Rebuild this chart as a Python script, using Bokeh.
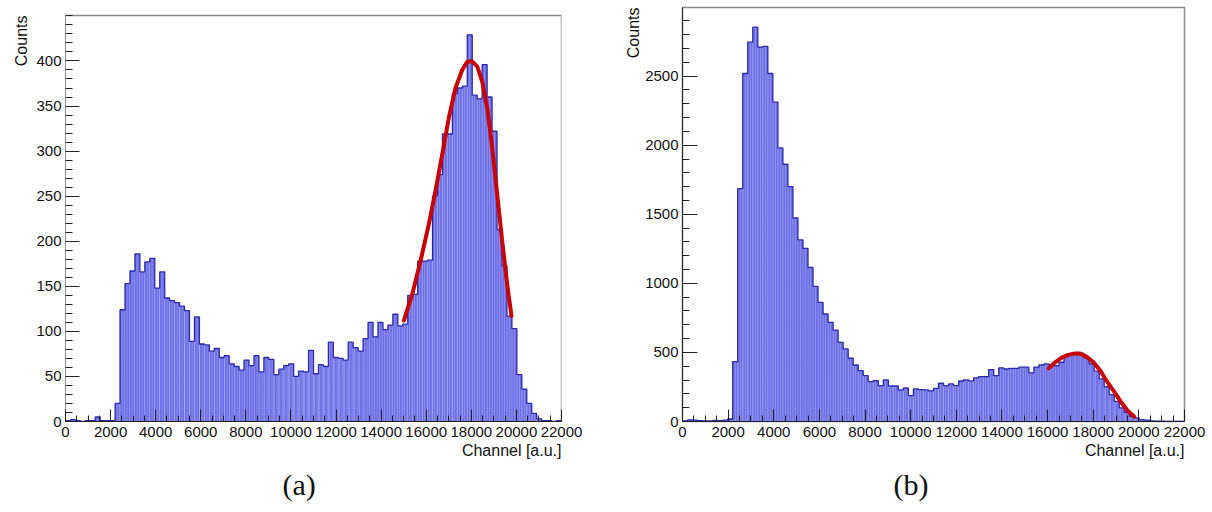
import numpy as np
from bokeh.plotting import figure
from bokeh.layouts import row
from bokeh.models import Range1d, FixedTicker, Title
from bokeh.embed import file_html
from bokeh.resources import INLINE

# ---------------- data ----------------
BIN_WIDTH = 220          # channel units per bin (100 bins over 0..22000)
X_MAX = 22000

counts_a = [1, 2, 1, 0, 1, 1, 5, 1, 1, 1,
            20, 124, 153, 167, 186, 166, 177, 181, 148, 166,
            137, 134, 132, 128, 123, 89, 116, 86, 85, 78,
            81, 71, 73, 64, 61, 57, 68, 62, 73, 55,
            71, 69, 52, 58, 62, 64, 50, 56, 55, 79,
            53, 63, 61, 88, 71, 70, 68, 88, 82, 78,
            92, 110, 94, 110, 102, 107, 119, 106, 108, 140,
            141, 178, 178, 179, 250, 274, 319, 319, 364, 370,
            372, 429, 362, 358, 396, 360, 322, 213, 173, 117,
            103, 52, 36, 20, 9, 3, 1, 1, 0, 1]

counts_b = [5, 12, 10, 6, 5, 4, 8, 6, 10, 18,
            433, 1686, 2519, 2746, 2854, 2710, 2716, 2519, 2312, 1980,
            1862, 1700, 1473, 1314, 1253, 1115, 978, 862, 778, 718,
            662, 573, 525, 458, 409, 368, 332, 289, 296, 260,
            301, 257, 257, 229, 243, 188, 236, 231, 229, 222,
            240, 277, 260, 272, 260, 293, 301, 294, 316, 325,
            325, 376, 332, 388, 380, 385, 385, 393, 393, 352,
            393, 409, 417, 409, 405, 429, 477, 489, 495, 493,
            460, 417, 364, 308, 253, 195, 145, 99, 67, 38,
            26, 14, 10, 4, 3, 2, 1, 0, 0, 0]

fit_a_x = [15007, 15377, 15746, 16116, 16412, 16708, 17003, 17299, 17595, 17817,
           18009, 18261, 18483, 18704, 18926, 19148, 19370, 19591, 19783]
fit_a_y = [112, 141, 178, 219, 256, 296, 337, 370, 390, 399,
           400, 394, 377, 348, 304, 252, 200, 152, 117]

fit_b_x = [16050, 16300, 16600, 16900, 17200, 17400, 17700, 18000, 18300, 18600,
           18900, 19200, 19500, 19800]
fit_b_y = [385, 425, 460, 482, 493, 493, 470, 430, 370, 290,
           220, 145, 80, 35]

x_ticks = list(range(0, 22001, 2000))
x_minor = list(range(0, 22001, 500))
y_ticks_a = list(range(0, 401, 50))
y_minor_a = list(range(0, 451, 10))
y_ticks_b = list(range(0, 2501, 500))
y_minor_b = list(range(0, 3001, 100))

x_title = "Channel [a.u.]"
y_title = "Counts"
captions = ["(a)", "(b)"]

FILL = "#6e6ee6"
EDGE = "#2a2aa8"
FIT = "#c80000"
FRAME = "#8c8c8c"
AXIS = "#222222"
SANS = "Liberation Sans"
SERIF = "Liberation Serif"

FIG_H = 512
BORDER_TOP = 7
BORDER_BOTTOM = 91
FRAME_H = FIG_H - BORDER_TOP - BORDER_BOTTOM


def panel(counts, fx, fy, yt, ymin, caption, bl, br, pad_top, tick_y, tick_x,
          cap_dx, ylab_standoff):
    counts = np.asarray(counts, dtype=float)
    edges = np.arange(len(counts) + 1) * BIN_WIDTH
    ymax = 1.05 * counts.max()
    y_end = ymax * FRAME_H / (FRAME_H - pad_top)
    p = figure(width=606, height=FIG_H, title=None,
               x_range=Range1d(0, X_MAX), y_range=Range1d(0, y_end),
               output_backend="svg", toolbar_location=None,
               min_border_left=bl, min_border_right=br,
               min_border_top=BORDER_TOP, min_border_bottom=BORDER_BOTTOM)
    p.xgrid.visible = False
    p.ygrid.visible = False
    p.background_fill_color = "white"
    p.border_fill_color = "white"

    p.quad(left=edges[:-1], right=edges[1:], bottom=0, top=counts,
           fill_color=FILL, line_color=None,
           hatch_pattern="|", hatch_color="white", hatch_alpha=0.3,
           hatch_scale=2.5, hatch_weight=0.8)
    sx = np.repeat(edges, 2)
    sy = np.concatenate([[0], np.repeat(counts, 2), [0]])
    p.line(sx, sy, line_color=EDGE, line_width=1.3)
    p.line(fx, fy, line_color=FIT, line_width=4, line_join="round", line_cap="round")

    for ax, ticks, minor, tin in ((p.xaxis[0], x_ticks, x_minor, tick_x),
                                  (p.yaxis[0], yt, ymin, tick_y)):
        ax.ticker = FixedTicker(ticks=ticks, minor_ticks=minor)
        ax.major_tick_in = tin
        ax.major_tick_out = 0
        ax.minor_tick_in = tin // 2
        ax.minor_tick_out = 0
        ax.axis_line_color = AXIS
        ax.major_tick_line_color = AXIS
        ax.minor_tick_line_color = AXIS
        ax.major_label_text_font = SANS
        ax.major_label_text_font_size = "15px"
        ax.major_label_text_color = "#111111"
    p.yaxis[0].major_label_standoff = 4
    p.xaxis[0].major_label_standoff = 5

    if pad_top > 0:
        # frame drawn by hand so that it closes at the histogram's own maximum
        p.outline_line_color = None
        p.yaxis[0].axis_line_color = None
        p.line([0, 0], [0, ymax], line_color=AXIS, line_width=1)
        p.line([0, X_MAX, X_MAX], [ymax, ymax, 0], line_color=FRAME, line_width=1.5)
    else:
        p.outline_line_color = FRAME
        p.outline_line_width = 1.5

    p.add_layout(Title(text=x_title, align="right", standoff=0,
                       text_font=SANS, text_font_size="16px",
                       text_font_style="normal", text_color="#111111"), "below")
    p.add_layout(Title(text=caption, align="left", offset=cap_dx, standoff=14,
                       text_font=SERIF, text_font_size="30px",
                       text_font_style="normal", text_color="#111111"), "below")
    p.add_layout(Title(text=y_title, align="right", offset=pad_top,
                       standoff=ylab_standoff,
                       text_font=SANS, text_font_size="16px",
                       text_font_style="normal", text_color="#111111"), "left")
    return p


pa = panel(counts_a, fit_a_x, fit_a_y, y_ticks_a, y_minor_a, captions[0],
           65, 45, 8, 14, 12, 217, 7)
pb = panel(counts_b, fit_b_x, fit_b_y, y_ticks_b, y_minor_b, captions[1],
           76, 28, 0, 15, 12, 211, 1)

layout = row(pa, pb)
open("out.html", "w").write(file_html(layout, INLINE))
